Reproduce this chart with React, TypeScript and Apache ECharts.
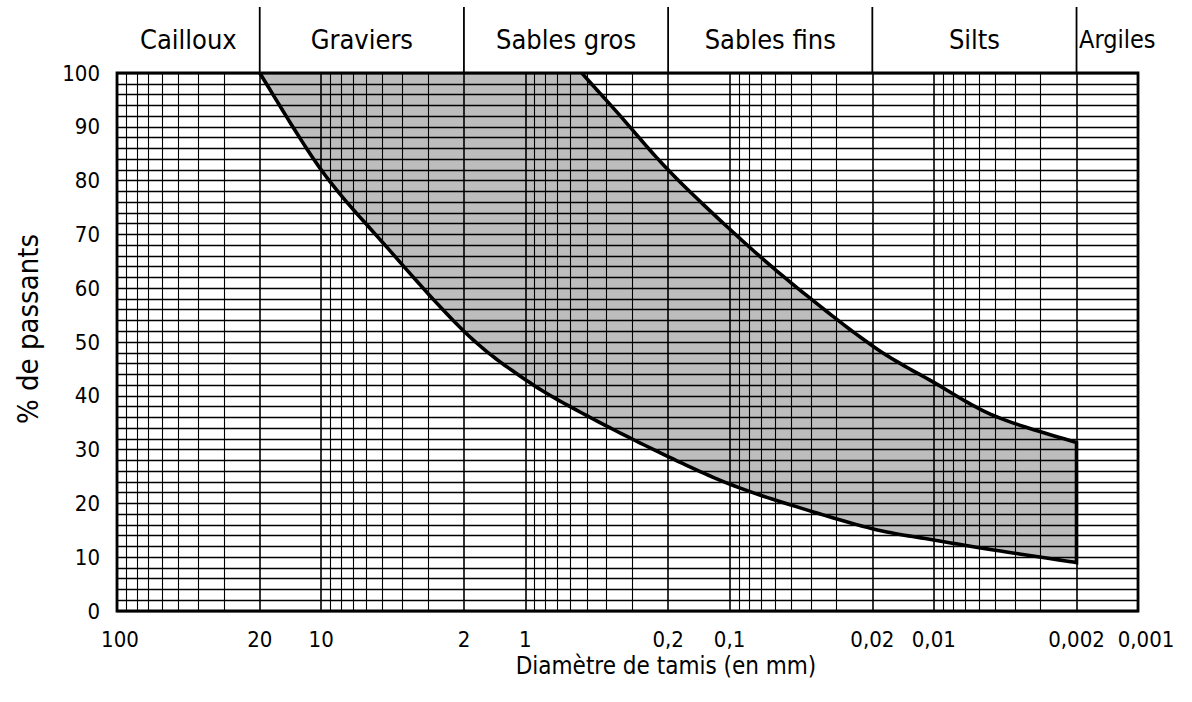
import React, { useEffect, useRef } from "react";
import * as echarts from "echarts";

// Lower (coarse) boundary of the band: diameter (mm) -> % passing
const lowerDiam = [20, 10, 5, 2, 1, 0.5, 0.2, 0.1, 0.05, 0.02, 0.01, 0.005, 0.002];
const lowerPass = [100, 82, 68.5, 52, 43, 36.3, 28.7, 23.6, 19.7, 15.3, 13.2, 11.3, 9];

// Upper (fine) boundary of the band
const upperDiam = [0.53, 0.35, 0.2, 0.1, 0.05, 0.02, 0.01, 0.005, 0.002];
const upperPass = [100, 92.4, 82, 71, 61, 49.3, 42.5, 36.2, 31.3];

// X tick labels
const xTickValues = [100, 20, 10, 2, 1, 0.2, 0.1, 0.02, 0.01, 0.002, 0.001];
const xTickLabels = ["100", "20", "10", "2", "1", "0,2", "0,1", "0,02", "0,01", "0,002", "0,001"];

// Soil classes and their limits
const classNames = ["Cailloux", "Graviers", "Sables gros", "Sables fins", "Silts", "Argiles"];
const classBounds = [100, 20, 2, 0.2, 0.02, 0.002, 0.001];

// Log grid lines
const decadeStarts = [0.001, 0.01, 0.1, 1, 10];
const mantissas = [1, 2, 3, 4, 5, 6, 7, 8, 9];
const gridValues = decadeStarts
  .flatMap((d) => mantissas.map((m) => Number((m * d).toPrecision(3))))
  .concat([100]);

const FONT = '"DejaVu Sans Condensed", "Liberation Sans Narrow", "DejaVu Sans", sans-serif';

// Catmull-Rom smoothing of a pixel path (drawing only)
function smoothPath(pts: number[][], steps = 14): number[][] {
  const out: number[][] = [pts[0]];
  for (let i = 0; i < pts.length - 1; i++) {
    const p0 = pts[i - 1] || pts[i];
    const p1 = pts[i];
    const p2 = pts[i + 1];
    const p3 = pts[i + 2] || pts[i + 1];
    for (let s = 1; s <= steps; s++) {
      const t = s / steps;
      const t2 = t * t;
      const t3 = t2 * t;
      const c = (k: number) =>
        0.5 *
        (2 * p1[k] +
          (-p0[k] + p2[k]) * t +
          (2 * p0[k] - 5 * p1[k] + 4 * p2[k] - p3[k]) * t2 +
          (-p0[k] + 3 * p1[k] - 3 * p2[k] + p3[k]) * t3);
      out.push([c(0), c(1)]);
    }
  }
  return out;
}

export default function App() {
  const ref = useRef<HTMLDivElement>(null);

  useEffect(() => {
    if (!ref.current) return;
    const chart = echarts.init(ref.current, undefined, { renderer: "svg" });

    const heavy = new Set([1, 10, 0.1, 0.01, 20, 2, 0.2, 0.02, 0.002]);

    const option: any = {
      animation: false,
      backgroundColor: "#fff",
      grid: {
        left: 117,
        right: 54,
        top: 73,
        bottom: 91,
        show: true,
        borderColor: "#000",
        borderWidth: 2.8,
        backgroundColor: "transparent",
      },
      xAxis: {
        type: "log",
        logBase: 10,
        min: 0.001,
        max: 100,
        inverse: true,
        axisLine: { show: false },
        axisTick: { show: false },
        axisLabel: { show: false },
        splitLine: { show: false },
      },
      yAxis: {
        type: "value",
        min: 0,
        max: 100,
        interval: 10,
        axisLine: { show: false },
        axisTick: { show: false },
        axisLabel: { fontSize: 22, fontFamily: FONT, color: "#000", margin: 17 },
        splitLine: { show: true, lineStyle: { color: "#000", width: 1.3 } },
        minorTick: { show: false, splitNumber: 5 },
        minorSplitLine: { show: true, lineStyle: { color: "#000", width: 1.3 } },
      },
      series: [
        {
          type: "line",
          data: [],
          z: 1,
          silent: true,
          markLine: {
            silent: true,
            precision: 8,
            symbol: ["none", "none"],
            label: { show: false },
            lineStyle: { color: "#000", width: 1, type: "solid" },
            emphasis: { disabled: true },
            data: gridValues.map((v) => ({
              xAxis: v,
              lineStyle: { color: "#000", width: heavy.has(v) ? 1.6 : 1.1, type: "solid" },
            })),
          },
        },
        {
          type: "custom",
          data: [[1, 50]],
          z: 5,
          silent: true,
          clip: true,
          renderItem: (_params: any, api: any) => {
            const lowPts = smoothPath(lowerDiam.map((d, i) => api.coord([d, lowerPass[i]])));
            const upPts = smoothPath(upperDiam.map((d, i) => api.coord([d, upperPass[i]])));
            const outline = lowPts.concat(upPts.slice().reverse());
            return {
              type: "group",
              children: [
                {
                  type: "polygon",
                  shape: { points: outline },
                  style: { fill: "rgba(0,0,0,0.26)", stroke: "none" },
                },
                {
                  type: "polyline",
                  shape: { points: outline },
                  style: { fill: "none", stroke: "#000", lineWidth: 3.6, lineJoin: "miter" },
                },
              ],
            };
          },
        },
      ],
    };

    chart.setOption(option);

    const px = (v: number) => chart.convertToPixel({ xAxisIndex: 0 }, v) as number;
    const yTop = chart.convertToPixel({ yAxisIndex: 0 }, 100) as number;
    const yBottom = chart.convertToPixel({ yAxisIndex: 0 }, 0) as number;

    const textStyle = (text: string, size: number) => ({
      text,
      fontSize: size,
      fontFamily: FONT,
      fill: "#000",
      textAlign: "center",
      textVerticalAlign: "middle",
      align: "center",
      verticalAlign: "middle",
    });

    const graphics: any[] = [];
    // class dividers above the plot
    for (let i = 1; i < classBounds.length - 1; i++) {
      const x = px(classBounds[i]);
      graphics.push({
        type: "line",
        shape: { x1: x, y1: 7, x2: x, y2: yTop },
        style: { stroke: "#000", lineWidth: 1.8 },
        silent: true,
      });
    }
    // class names
    classNames.forEach((name, i) => {
      const a = px(classBounds[i]);
      const b = px(classBounds[i + 1]);
      let cx = (a + b) / 2;
      if (i === classNames.length - 1) cx += 10;
      graphics.push({
        type: "text",
        x: cx,
        y: 39,
        silent: true,
        style: textStyle(name, i === classNames.length - 1 ? 25 : 27),
      });
    });
    // x tick labels
    xTickValues.forEach((v, i) => {
      let x = px(v);
      if (i === 0) x += 3;
      if (i === xTickValues.length - 1) x += 8;
      graphics.push({
        type: "text",
        x,
        y: yBottom + 28,
        silent: true,
        style: textStyle(xTickLabels[i], 22),
      });
    });
    // axis titles
    graphics.push({
      type: "text",
      x: 666,
      y: 666,
      silent: true,
      style: textStyle("Diamètre de tamis (en mm)", 24),
    });
    graphics.push({
      type: "text",
      x: 28,
      y: 329,
      rotation: Math.PI / 2,
      silent: true,
      style: textStyle("% de passants", 29),
    });

    chart.setOption({ graphic: graphics });

    return () => chart.dispose();
  }, []);

  return (
    <div
      ref={ref}
      style={{ position: "absolute", left: 0, top: 0, width: 1192, height: 702, background: "#fff" }}
    />
  );
}
